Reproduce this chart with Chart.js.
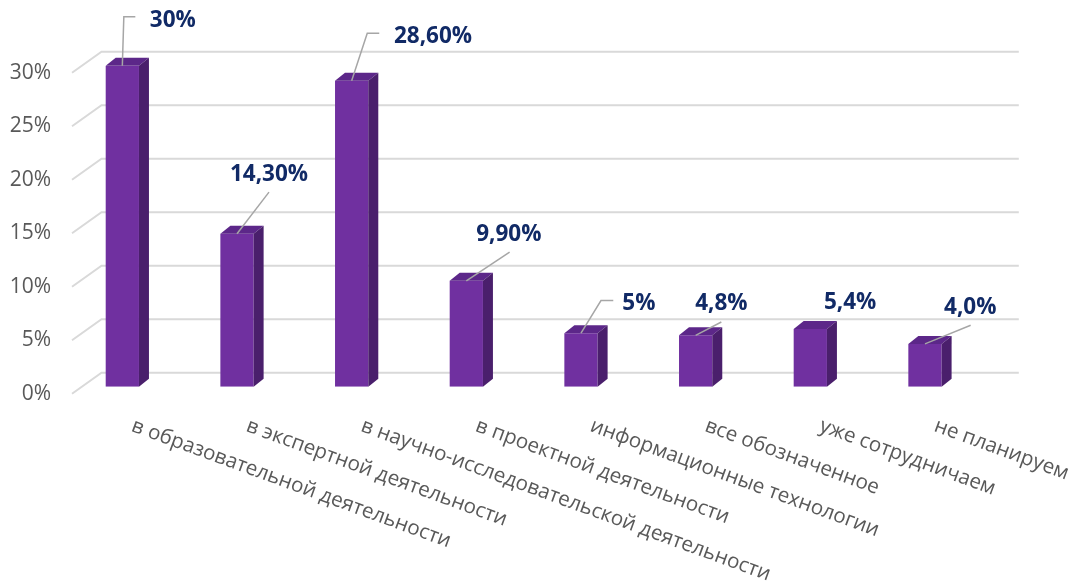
<!DOCTYPE html>
<html lang="ru">
<head>
<meta charset="utf-8">
<title>Направления сотрудничества</title>
<script src="https://cdn.jsdelivr.net/npm/chart.js@4.4.1/dist/chart.umd.min.js"></script>
<style>
  html, body { margin: 0; padding: 0; background: #ffffff; }
  #wrap { width: 1079px; height: 586px; position: relative; }
</style>
</head>
<body>
<div id="wrap"><canvas id="chart" width="1079" height="586"></canvas></div>
<script>
// ---- data ----
const categories = [
  'в образовательной деятельности',
  'в экспертной деятельности',
  'в научно-исследовательской деятельности',
  'в проектной деятельности',
  'информационные технологии',
  'все обозначенное',
  'уже сотрудничаем',
  'не планируем'
];
const shares = [30, 14.3, 28.6, 9.9, 5, 4.8, 5.4, 4.0];
// number of decimals shown in each value label
const shareDecimals = [0, 2, 2, 2, 0, 1, 1, 1];
const yTickValues = [0, 5, 10, 15, 20, 25, 30];

// ---- styling ----
const FRONT = '#7030a0';
const TOP = '#5c2789';
const SIDE = '#4a1f6c';
const GRID = '#d9d9d9';
const LEADER = '#a6a6a6';
const LABEL_NAVY = '#112a66';
const AXIS_TEXT = '#595959';

// depth of each bar (towards the back wall)
const BAR_DEPTH = { dx: 10, dy: -8 };
// back wall relative to the bar plane, and the front edge of the side wall
const WALL_BACK = { dx: 36.5, dy: -14 };
const WALL_FRONT = { dx: 7, dy: 7 };

// callout placement relative to the top-centre of each bar's front face
const callouts = [
  { lx: 27.5, ly: -47,   align: 'left',   leader: [[1.5, -49], [13, -49]] },
  { lx: 32,   ly: -60.5, align: 'center', leader: [[32, -41.6]] },
  { lx: 42.3, ly: -46,   align: 'left',   leader: [[15.6, -47.4], [27.6, -47.4]] },
  { lx: 42.5, ly: -47.7, align: 'center', leader: [[43.3, -28.7]] },
  { lx: 41.3, ly: -31.5, align: 'left',   leader: [[20, -32.7], [32.3, -32.7]] },
  { lx: 25.7, ly: -33.2, align: 'center', leader: [[25.7, -13.3]] },
  { lx: 39.8, ly: -27.8, align: 'center', leader: [] },
  { lx: 45.3, ly: -37.5, align: 'center', leader: [[45.7, -18.7]] }
];

function formatShare(v, d) {
  return v.toFixed(d).replace('.', ',') + '%';
}

// walls: back-wall gridlines plus the slanted side-wall lines
const wallPlugin = {
  id: 'walls',
  beforeDatasetsDraw(chart) {
    const { ctx, chartArea } = chart;
    const y = chart.scales.y;
    ctx.save();
    ctx.strokeStyle = GRID;
    ctx.lineWidth = 2;
    yTickValues.forEach(v => {
      const py = y.getPixelForValue(v);
      ctx.beginPath();
      ctx.moveTo(chartArea.left + WALL_FRONT.dx, py + WALL_FRONT.dy);
      ctx.lineTo(chartArea.left + WALL_BACK.dx, py + WALL_BACK.dy);
      ctx.lineTo(chartArea.right + WALL_BACK.dx, py + WALL_BACK.dy);
      ctx.stroke();
    });
    ctx.restore();
  }
};

// extrusion of each bar, value callouts and slanted category labels
const depthPlugin = {
  id: 'depth',
  afterDatasetsDraw(chart) {
    const { ctx, chartArea } = chart;
    const meta = chart.getDatasetMeta(0);
    ctx.save();
    meta.data.forEach((bar, i) => {
      const p = bar.getProps(['x', 'y', 'base', 'width'], true);
      const l = p.x - p.width / 2, r = p.x + p.width / 2;
      const dx = BAR_DEPTH.dx, dy = BAR_DEPTH.dy;
      ctx.fillStyle = TOP;
      ctx.beginPath();
      ctx.moveTo(l, p.y);
      ctx.lineTo(l + dx, p.y + dy);
      ctx.lineTo(r + dx, p.y + dy);
      ctx.lineTo(r, p.y);
      ctx.closePath();
      ctx.fill();
      ctx.fillStyle = SIDE;
      ctx.beginPath();
      ctx.moveTo(r, p.y);
      ctx.lineTo(r + dx, p.y + dy);
      ctx.lineTo(r + dx, p.base + dy);
      ctx.lineTo(r, p.base);
      ctx.closePath();
      ctx.fill();
    });

    // callouts
    meta.data.forEach((bar, i) => {
      const p = bar.getProps(['x', 'y'], true);
      const c = callouts[i];
      if (c.leader.length) {
        ctx.strokeStyle = LEADER;
        ctx.lineWidth = 1.5;
        ctx.beginPath();
        ctx.moveTo(p.x, p.y);
        c.leader.forEach(pt => ctx.lineTo(p.x + pt[0], p.y + pt[1]));
        ctx.stroke();
      }
      ctx.fillStyle = LABEL_NAVY;
      ctx.font = 'bold 22.5px "Open Sans", "DejaVu Sans", sans-serif';
      ctx.textAlign = c.align;
      ctx.textBaseline = 'alphabetic';
      ctx.fillText(formatShare(shares[i], shareDecimals[i]), p.x + c.lx, p.y + c.ly + 8);
    });

    // category labels, running down to the right
    const xs = chart.scales.x;
    ctx.fillStyle = AXIS_TEXT;
    ctx.font = '20.6px "Open Sans", "DejaVu Sans", sans-serif';
    ctx.textAlign = 'left';
    ctx.textBaseline = 'alphabetic';
    categories.forEach((name, i) => {
      const px = xs.getPixelForValue(i);
      ctx.save();
      ctx.translate(px + 8, chartArea.bottom + 44);
      ctx.rotate(20.2 * Math.PI / 180);
      ctx.fillText(name, 0, 0);
      ctx.restore();
    });
    ctx.restore();
  }
};

new Chart(document.getElementById('chart'), {
  type: 'bar',
  data: {
    labels: categories,
    datasets: [{
      data: shares,
      backgroundColor: FRONT,
      borderWidth: 0,
      barPercentage: 0.29,
      categoryPercentage: 1
    }]
  },
  options: {
    responsive: false,
    devicePixelRatio: 1,
    animation: false,
    layout: { padding: { left: 10, right: 96.7, top: 65.7, bottom: 199.3 } },
    plugins: { legend: { display: false }, tooltip: { enabled: false } },
    scales: {
      x: { display: false },
      y: {
        min: 0,
        max: 30,
        afterFit(scale) { scale.width = 55; },
        afterBuildTicks(scale) { scale.ticks = yTickValues.map(v => ({ value: v })); },
        grid: { display: false, drawTicks: false },
        border: { display: false },
        ticks: {
          padding: 14,
          labelOffset: 7,
          color: AXIS_TEXT,
          font: { family: '"Open Sans", "DejaVu Sans", sans-serif', size: 21 },
          callback: v => v + '%'
        }
      }
    }
  },
  plugins: [wallPlugin, depthPlugin]
});
</script>
</body>
</html>
